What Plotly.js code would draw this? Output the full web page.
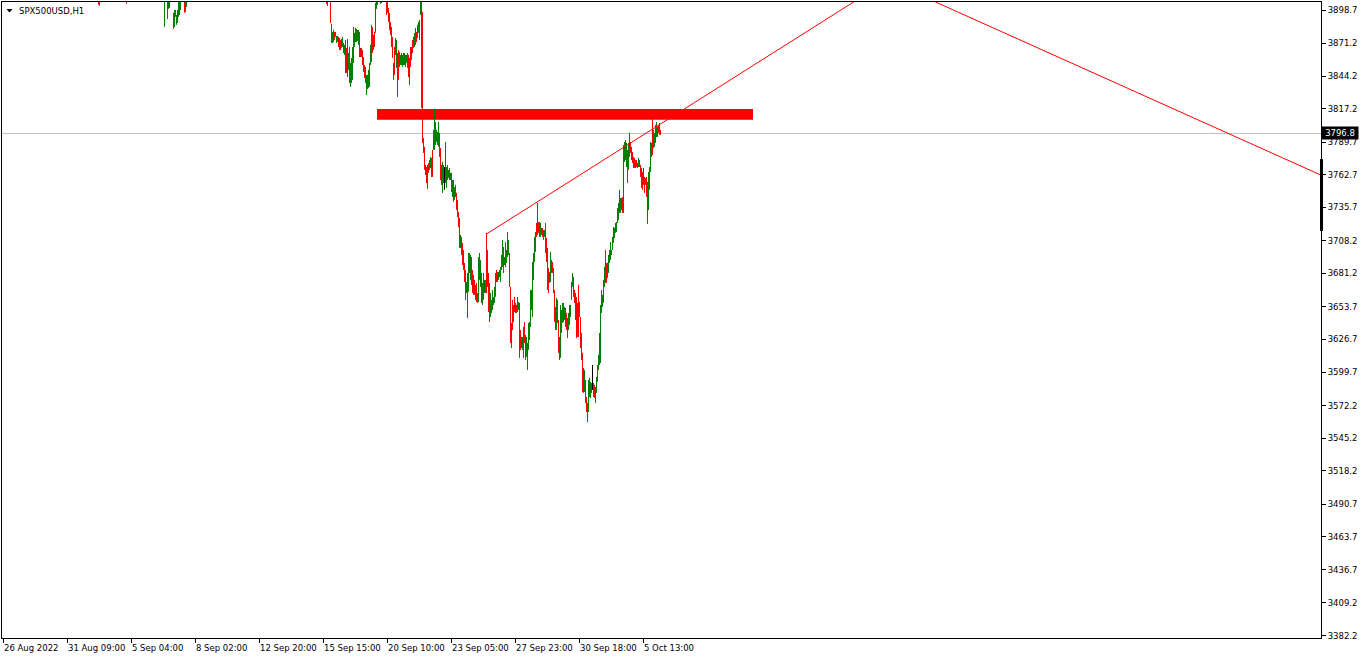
<!DOCTYPE html>
<html><head><meta charset="utf-8">
<script src="https://cdn.plot.ly/plotly-3.0.1.min.js"></script>
<style>html,body{margin:0;padding:0;background:#fff;overflow:hidden}#chart{width:1362px;height:660px}</style>
</head><body><div id="chart"></div>
<script>
// ---------------- data ----------------
const symbolTitle = "SPX500USD,H1";
const lastPrice = 3796.8;
// bar numbers counted from the "26 Aug 2022" bar; first listed bar:
const firstBar = 95;
const gap = n => ".".repeat(n);   // bars whose range is above the visible window
// u = up (green), d = down (red), n = doji (black), "." = not visible
const barDirs =
  "du" + gap(26) + "d" + gap(37) + "u" + gap(2) + "duu" + gap(3) + "duduuuuu" + gap(3) + "ddu" + gap(139) +
  "du" + gap(2) +
  "dduddduudd" + "ddududduud" + "uduuuduuud" + "dudddduduu" + "udduduuu" + gap(2) + "uu" + gap(4) +
  "dddddddudd" + "uuddududud" + "uddududuuu" + "duuuuudddd" + "duduuuduud" +
  "ududduudnu" + "ududududud" + "dddduddddd" + "uuududdddu" + "duuuuduuuu" +
  "dddduduuuu" + "duuduuuuud" + "uuuddddudu" + "duudduuddd" + "uuuuuuuuuu" +
  "dudduuddud" + "ddduuudddd" + "uddduuudud" + "duuuuuuddd" + "duddddddud" +
  "dduduunudu" + "uuududuuuu" + "dduuuduuuu" + "uuuuudduud" + "uuuddddudu" +
  "duuddddudu" + "duuduudduu" + "uudud";

const highs = [
  3918.0,3916.5,3912.4,3931.8,3927.3,3925.0,3922.6,3896.3,3898.7,3898.7,3894.6,3898.7,3911.9,3913.6,3915.2,3920.4,3918.7,3916.1,
  3913.8,3915.5,
  3921.0,3887.2,3880.6,3882.2,3880.6,3880.6,3877.3,3877.3,3876.5,3875.6,
  3874.0,3874.8,3876.5,3871.5,3869.9,3874.0,3867.4,3874.8,3863.2,3868.2,
  3855.0,3859.1,3868.2,3884.7,3879.8,3883.9,3883.1,3882.2,3882.2,3880.6,
  3867.4,3867.4,3865.7,3859.9,3853.3,3851.7,3845.1,3845.1,3849.2,3855.0,
  3869.9,3886.4,3884.7,3878.1,3880.6,3904.5,3912.3,3914.7,
  3911.6,3913.2,
  3922.8,3918.5,3900.4,3896.3,3888.8,3884.7,3876.5,3855.0,3868.2,3875.6,
  3874.0,3863.2,3865.7,3864.1,3861.6,3863.2,3861.6,3863.2,3863.2,3861.6,
  3861.6,3863.2,3861.6,3859.1,3868.2,3868.2,3874.0,3876.5,3879.8,3883.9,
  3880.6,3886.4,3888.8,3890.5,3912.0,3914.2,3897.1,3793.1,3785.7,3770.8,
  3769.1,3770.8,3772.4,3774.9,3777.4,3776.6,3783.2,3799.7,3817.0,3806.3,
  3799.7,3798.0,3806.3,3797.2,3784.8,3770.8,3773.3,3770.8,3769.1,3789.8,
  3769.1,3770.8,3766.7,3768.3,3764.2,3764.2,3758.4,3758.4,3752.6,3754.3,
  3747.7,3741.9,3732.0,3727.0,3713.0,3711.4,3706.4,3700.6,3689.9,3684.1,
  3674.2,3681.6,3698.1,3698.1,3696.5,3694.8,3684.1,3680.0,3675.9,3671.7,
  3673.4,3665.1,3694.8,3698.1,3692.4,3681.6,3673.4,3681.6,3675.9,3675.9,
  3714.7,3700.6,3681.6,3673.4,3665.1,3659.4,3667.6,3661.8,3670.1,3681.6,
  3684.1,3682.5,3682.5,3684.1,3686.6,3696.5,3708.9,3703.1,3694.8,3707.2,
  3700.6,3715.5,3708.9,3698.1,3670.1,3640.4,3659.4,3655.2,3661.8,3656.9,
  3655.2,3661.8,3657.7,3656.9,3634.6,3628.8,3628.8,3637.1,3641.2,3630.5,
  3628.8,3623.9,3640.4,3641.2,3667.6,3667.6,3690.7,3698.1,3711.4,3715.5,
  3722.9,3739.4,3723.7,3723.7,3722.9,3718.8,3718.8,3717.1,3717.1,3722.9,
  3710.5,3702.3,3685.8,3682.5,3699.0,3692.4,3690.7,3685.8,3667.6,3653.6,
  3661.0,3659.4,3642.8,3628.8,3655.2,3651.1,3656.9,3656.9,3653.6,3652.8,
  3648.6,3644.5,3648.6,3655.2,3655.2,3674.2,3681.6,3678.3,3667.6,3665.1,
  3661.8,3656.9,3671.7,3657.7,3645.3,3632.1,3615.6,3603.2,3601.6,3593.3,
  3579.3,3574.3,3593.3,3595.0,3591.7,3590.8,3605.7,3590.8,3589.2,3587.5,
  3595.8,3605.7,3614.0,3632.1,3655.2,3667.6,3663.5,3675.9,3686.6,3700.6,
  3689.9,3689.9,3696.5,3700.6,3707.2,3700.6,3711.4,3719.6,3718.8,3722.9,
  3723.7,3735.3,3739.4,3750.2,3743.5,3743.5,3744.4,3787.3,3789.8,3791.4,
  3789.0,3783.2,3789.0,3797.2,3789.8,3785.7,3781.5,3777.4,3776.6,3774.9,
  3774.9,3772.4,3776.6,3774.9,3770.8,3768.3,3765.0,3768.3,3760.9,3760.1,
  3760.9,3756.8,3765.0,3769.1,3789.8,3789.0,3811.2,3799.7,3797.2,3803.8,
  3806.3,3802.2,3803.8,3805.5,3799.7
];
const lows = [
  3903.1,3902.3,3903.9,3884.7,3891.3,3899.6,3900.4,3883.1,3884.7,3893.0,3886.4,3888.0,3893.0,3894.6,3898.7,3896.3,3897.1,3901.2,
  3903.7,3902.0,
  3888.0,3871.5,3871.5,3872.3,3874.0,3876.5,3871.5,3872.3,3868.2,3865.7,
  3865.7,3867.4,3868.2,3863.2,3861.6,3846.7,3846.7,3843.4,3849.2,3838.5,
  3835.2,3838.5,3841.0,3855.0,3868.2,3872.3,3872.3,3873.2,3869.9,3859.9,
  3859.9,3859.9,3853.3,3847.6,3842.6,3838.5,3828.6,3833.5,3834.4,3835.2,
  3853.3,3855.8,3863.2,3865.7,3868.2,3879.8,3899.6,3902.9,
  3903.7,3904.5,
  3894.6,3896.3,3888.8,3882.2,3878.1,3868.2,3859.1,3841.0,3845.1,3861.6,
  3850.9,3826.9,3841.0,3851.7,3853.3,3853.3,3851.7,3853.3,3853.3,3851.7,
  3855.0,3850.9,3843.4,3836.8,3851.7,3857.5,3863.2,3867.4,3868.2,3869.9,
  3872.3,3875.6,3879.8,3874.0,3894.6,3817.8,3789.0,3780.7,3766.7,3762.5,
  3755.9,3751.0,3764.2,3766.7,3768.3,3760.9,3760.9,3783.2,3783.2,3787.3,
  3789.8,3787.3,3785.7,3777.4,3758.4,3754.3,3747.7,3755.9,3750.2,3755.9,
  3751.8,3758.4,3760.1,3758.4,3758.4,3748.5,3744.4,3740.3,3741.9,3744.4,
  3733.6,3727.9,3719.6,3702.3,3702.3,3696.5,3688.2,3684.1,3674.2,3659.4,
  3665.1,3644.5,3666.0,3681.6,3675.9,3671.7,3665.1,3663.5,3663.5,3659.4,
  3657.7,3656.9,3657.7,3675.9,3670.1,3656.9,3655.2,3659.4,3665.1,3665.1,
  3665.1,3670.1,3649.4,3641.2,3645.3,3648.6,3651.1,3655.2,3656.9,3661.8,
  3674.2,3674.2,3675.9,3678.3,3674.2,3684.1,3686.6,3681.6,3688.2,3686.6,
  3689.9,3694.8,3696.5,3670.1,3623.9,3619.7,3634.6,3641.2,3649.4,3648.6,
  3648.6,3649.4,3651.1,3611.5,3618.1,3619.7,3618.1,3611.5,3623.9,3609.8,
  3612.3,3601.6,3618.1,3626.3,3637.1,3651.1,3645.3,3675.9,3690.7,3699.0,
  3711.4,3713.0,3714.7,3711.4,3711.4,3713.0,3711.4,3708.9,3711.4,3698.1,
  3690.7,3667.6,3665.1,3673.4,3674.2,3681.6,3681.6,3665.1,3641.2,3634.6,
  3634.6,3640.4,3615.6,3609.8,3611.5,3632.1,3640.4,3641.2,3642.8,3637.1,
  3634.6,3628.0,3634.6,3638.7,3645.3,3659.4,3670.1,3661.8,3656.9,3642.8,
  3628.0,3628.8,3628.8,3645.3,3619.7,3609.8,3583.4,3582.6,3583.4,3574.3,
  3566.9,3558.6,3566.9,3579.3,3578.4,3582.6,3585.1,3579.3,3578.4,3574.3,
  3582.6,3591.7,3601.6,3605.7,3607.3,3648.6,3653.6,3656.9,3670.1,3673.4,
  3673.4,3677.5,3681.6,3689.9,3692.4,3696.5,3700.6,3706.4,3710.5,3714.7,
  3715.5,3722.9,3725.4,3731.2,3731.2,3733.6,3731.2,3731.2,3773.3,3774.9,
  3769.1,3755.9,3766.7,3777.4,3780.7,3774.9,3772.4,3768.3,3768.3,3768.3,
  3769.1,3768.3,3769.1,3769.1,3760.9,3751.8,3750.2,3754.3,3747.7,3754.3,
  3744.4,3722.1,3733.6,3750.2,3765.0,3777.4,3779.0,3784.8,3785.7,3789.0,
  3793.9,3793.9,3797.2,3795.6,3795.6
];

const xTickLabels = ["26 Aug 2022","31 Aug 09:00","5 Sep 04:00","8 Sep 02:00","12 Sep 20:00","15 Sep 15:00",
  "20 Sep 10:00","23 Sep 05:00","27 Sep 23:00","30 Sep 18:00","5 Oct 13:00"];
const barsPerXLabel = 64;
const yTickLabels = ["3898.7","3871.2","3844.2","3817.2","3789.7","3762.7","3735.7","3708.2","3681.2","3653.7",
  "3626.7","3599.7","3572.2","3545.2","3518.2","3490.7","3463.7","3436.7","3409.2","3382.2"];

// drawn objects (bar number, price)
const resistanceZone = {bar0: 373.5, bar1: 749.5, low: 3808.0, high: 3817.0};
const trendUp = {bar0: 483, p0: 3713.8, bar1: 1000, p1: 3983.5};
const trendDown = {bar0: 880, p0: 3924.6, bar1: 1317.5, p1: 3762.4};

// ---------------- build ----------------
const segs = {u: {x: [], y: []}, d: {x: [], y: []}, n: {x: [], y: []}};
let j = 0;
for (let i = 0; i < barDirs.length; i++) {
  const c = barDirs[i];
  if (c === ".") continue;
  const k = firstBar + i;
  segs[c].x.push(k, k, null);
  segs[c].y.push(lows[j], highs[j], null);
  j++;
}
const colors = {u: "#008000", d: "#ff0000", n: "#000000"};
const traces = ["u", "d", "n"].map(c => ({
  type: "scatter", mode: "lines", x: segs[c].x, y: segs[c].y,
  line: {color: colors[c], width: 1}, hoverinfo: "skip", connectgaps: false
}));

const FONT = "DejaVu Sans, Verdana, sans-serif";
const xTickBars = xTickLabels.map((_, i) => i * barsPerXLabel);

const annotations = xTickLabels.map((t, i) => ({
  x: xTickBars[i], xref: "x", y: 0, yref: "paper", text: t, showarrow: false,
  xanchor: "left", yanchor: "top", xshift: -1.5, yshift: -3,
  font: {family: FONT, size: 8.5, color: "#000"}
}));
annotations.push({
  x: 0, xref: "paper", y: 1, yref: "paper", text: symbolTitle, showarrow: false,
  xanchor: "left", yanchor: "middle", xshift: 14.5, yshift: -9,
  font: {family: FONT, size: 8.5, color: "#000"}
});
annotations.push({
  x: 1, xref: "paper", y: lastPrice, yref: "y", text: lastPrice.toFixed(1), showarrow: false,
  xanchor: "left", yanchor: "middle", xshift: 0, bgcolor: "#000", borderpad: 1,
  width: 34, height: 10, align: "center",
  font: {family: FONT, size: 8.5, color: "#fff"}
});

const shapes = [
  {type: "rect", xref: "x", yref: "y", x0: resistanceZone.bar0, x1: resistanceZone.bar1,
   y0: resistanceZone.low, y1: resistanceZone.high, fillcolor: "#ff0000", line: {width: 0}, layer: "below"},
  {type: "line", xref: "paper", yref: "y", x0: 0, x1: 1, y0: lastPrice, y1: lastPrice,
   line: {color: "#c0c0c0", width: 1}, layer: "below"},
  {type: "line", xref: "x", yref: "y", x0: trendUp.bar0, y0: trendUp.p0, x1: trendUp.bar1, y1: trendUp.p1,
   line: {color: "#ff0000", width: 1}, layer: "above"},
  {type: "line", xref: "x", yref: "y", x0: trendDown.bar0, y0: trendDown.p0, x1: trendDown.bar1, y1: trendDown.p1,
   line: {color: "#ff0000", width: 1}, layer: "above"},
  {type: "path", xref: "paper", yref: "paper", xsizemode: "pixel", ysizemode: "pixel", xanchor: 0, yanchor: 1,
   path: "M4.5,-7 L10.5,-7 L7.5,-10.5 Z", fillcolor: "#000", line: {width: 0}},
  {type: "rect", xref: "paper", yref: "paper", xsizemode: "pixel", xanchor: 1, x0: -1, x1: 2,
   y0: 0.640, y1: 0.753, fillcolor: "#000", line: {width: 0}}
];

const layout = {
  width: 1362, height: 660,
  margin: {l: 2, r: 41, t: 2, b: 22, pad: 0},
  paper_bgcolor: "#ffffff", plot_bgcolor: "#ffffff", showlegend: false,
  font: {family: FONT, size: 8.5, color: "#000"},
  xaxis: {range: [-1.5, 1317.5], showgrid: false, zeroline: false, showline: true, mirror: true,
          linecolor: "#000", linewidth: 1, ticks: "outside", ticklen: 4, tickcolor: "#000", tickwidth: 1,
          tickvals: xTickBars, showticklabels: false, fixedrange: true},
  yaxis: {side: "right", range: [3380.3, 3905.3], showgrid: false, zeroline: false, showline: true, mirror: true,
          linecolor: "#000", linewidth: 1, ticks: "outside", ticklen: 4, tickcolor: "#000", tickwidth: 1,
          tickvals: yTickLabels.map(Number), ticktext: yTickLabels,
          tickfont: {family: FONT, size: 8.5, color: "#000"}, fixedrange: true},
  shapes: shapes, annotations: annotations
};

Plotly.newPlot("chart", traces, layout, {staticPlot: true, displayModeBar: false});
</script>
</body></html>
